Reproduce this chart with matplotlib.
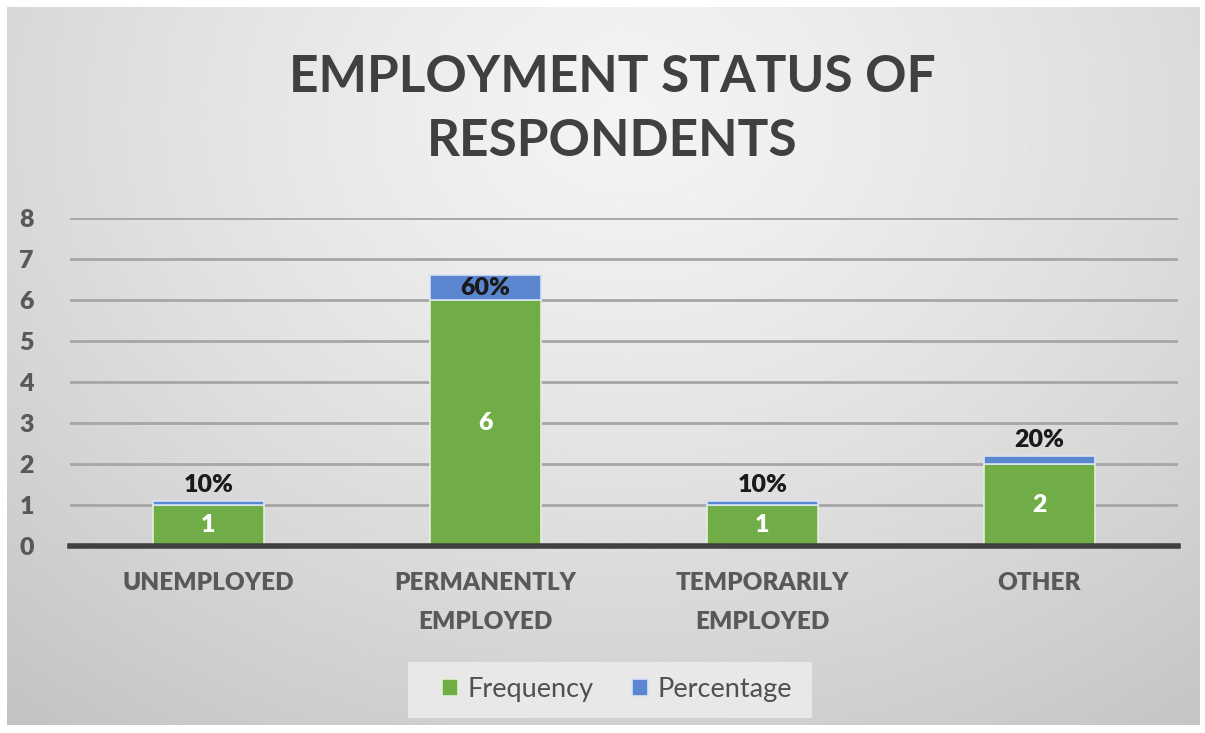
import numpy as np
import matplotlib.pyplot as plt
from matplotlib.patches import Rectangle

categories = ['UNEMPLOYED', 'PERMANENTLY\nEMPLOYED', 'TEMPORARILY\nEMPLOYED', 'OTHER']
frequency = [1, 6, 1, 2]
percentage = [0.1, 0.6, 0.1, 0.2]
y_ticks = [0, 1, 2, 3, 4, 5, 6, 7, 8]

GREEN = '#70ad47'
BLUE = '#5b86d0'
TEXT = '#595959'

plt.rcParams['font.family'] = ['Lato', 'DejaVu Sans']

fig = plt.figure(figsize=(12.05, 7.33), dpi=100)
fig.patch.set_facecolor('white')

# radial grey background, lighter towards the top centre
bg = fig.add_axes([7 / 1205, 8 / 733, 1193 / 1205, 718 / 733], zorder=-10)
yy, xx = np.mgrid[0:1:300j, 0:1:500j]
r = np.sqrt(((xx - 0.52) / 0.75) ** 2 + ((yy - 0.85) / 1.0) ** 2)
shade = 0.955 - 0.17 * np.clip(r, 0, 1.2) ** 1.3
bg.imshow(shade, cmap='gray', vmin=0, vmax=1, extent=[0, 1, 0, 1],
          origin='lower', aspect='auto', interpolation='bilinear')
bg.axis('off')

ax = fig.add_axes([70 / 1205, 187 / 733, 1108 / 1205, 328 / 733])
ax.set_facecolor('none')

x = np.arange(len(categories))
width = 0.4
b1 = ax.bar(x, frequency, width, color=GREEN, edgecolor='#e2f0d9', linewidth=1.2,
            label='Frequency', zorder=3)
b2 = ax.bar(x, percentage, width, bottom=frequency, color=BLUE, edgecolor='#dae3f3',
            linewidth=1.2, label='Percentage', zorder=3)

ax.bar_label(b1, labels=[str(v) for v in frequency], label_type='center',
             color='white', fontsize=18, fontweight='heavy', zorder=4)
for rect, p in zip(b2, percentage):
    cx = rect.get_x() + rect.get_width() / 2
    top = rect.get_y() + rect.get_height()
    txt = f'{p * 100:.0f}%'
    if p >= 0.3:
        ax.text(cx, rect.get_y() + rect.get_height() / 2, txt, ha='center', va='center',
                fontsize=18, fontweight='heavy', color='#1a1a1a', zorder=4)
    else:
        ax.text(cx, top + 0.12, txt, ha='center', va='bottom',
                fontsize=18, fontweight='heavy', color='#1a1a1a', zorder=4)

ax.set_xlim(-0.5, len(categories) - 0.5)
ax.set_ylim(0, 8)
ax.set_yticks(y_ticks)
ax.set_xticks(x)
ax.set_xticklabels(categories, fontsize=17.5, fontweight='heavy', color=TEXT,
                   linespacing=1.9, va='top')
ax.tick_params(axis='x', length=0, pad=19)
ax.tick_params(axis='y', length=0, pad=26, labelsize=18, labelcolor=TEXT)
for lbl in ax.get_yticklabels():
    lbl.set_fontweight('heavy')

ax.yaxis.grid(True, color='#a6a6a6', linewidth=2, zorder=0)
ax.set_axisbelow(True)
for s in ['left', 'right', 'top']:
    ax.spines[s].set_visible(False)
ax.spines['bottom'].set_color('#404040')
ax.spines['bottom'].set_linewidth(4)
ax.spines['bottom'].set_zorder(5)

fig.text(0.508, 0.85, 'EMPLOYMENT STATUS OF\nRESPONDENTS', ha='center', va='center',
         fontsize=37, fontweight='bold', color='#404040', linespacing=1.45)

# legend sits on a light panel below the category labels
fig.patches.append(Rectangle((408 / 1205, 15 / 733), 404 / 1205, 56 / 733,
                             transform=fig.transFigure, facecolor='#e8e8e8',
                             edgecolor='none', zorder=-5))
fig.legend(handles=[b1, b2], loc='center', bbox_to_anchor=(0.512, 0.059), ncol=2,
           frameon=False, fontsize=19.5, labelcolor='#505050', handlelength=0.6,
           handleheight=0.6, handletextpad=0.35, columnspacing=1.4)

fig.savefig('out.png', dpi=100)
